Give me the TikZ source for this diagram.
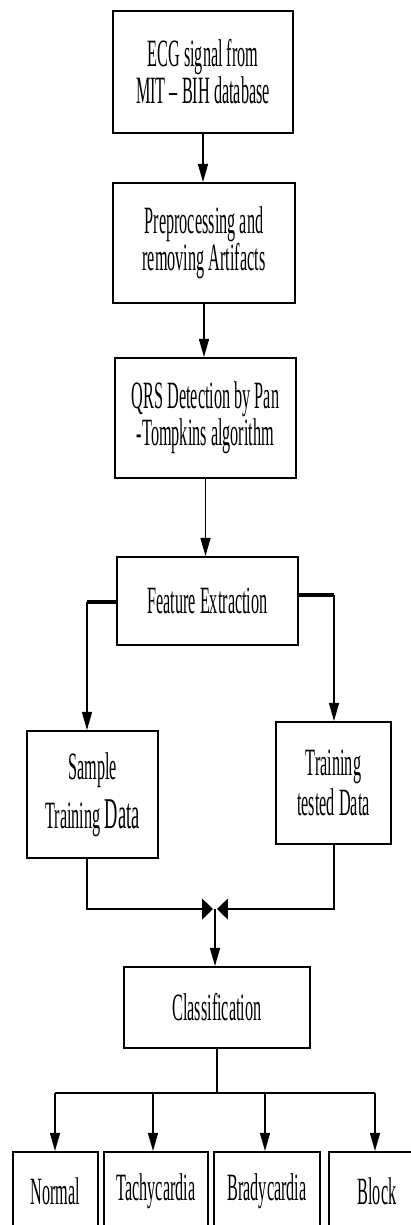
\documentclass[tikz,border=0pt]{standalone}
\usepackage{fontspec}
\setmainfont[FakeStretch=0.42]{Liberation Serif}
\usetikzlibrary{arrows.meta,positioning}
\tikzset{
  stage/.style={
    shape = rectangle,
    draw,
    line width = 1.2pt,
    align = center,
    inner sep = 0pt,
    font = \fontsize{22}{21}\selectfont
  },
  arr/.style={
    line width = 0.8pt,
    -{Triangle[length=0.36cm,width=0.2cm]}
  },
  mergearr/.style={
    line width = 0.8pt,
    -{Triangle[length=0.22cm,width=0.42cm]}
  },
  wire/.style={
    line width = 0.8pt
  },
  bar/.style={
    line width = 2.3pt
  }
}

\begin{document}
\begin{tikzpicture}[x=0.02cm, y=-0.02cm]
    \useasboundingbox (0,0) rectangle (411,1225);
    \clip (0,0) rectangle (411,1225);
    % main column
    \node[stage, minimum width=3.6cm, minimum height=2.44cm] (ecg) at (203,72) {ECG signal from\\MIT -- BIH database};
    \node[stage, minimum width=3.64cm, minimum height=2.4cm] (pre) at (204,243) {Preprocessing and\\removing Artifacts};
    \node[stage, minimum width=3.62cm, minimum height=2.4cm] (qrs) at (205.5,418) {QRS Detection by Pan\\-Tompkins algorithm};
    \node[stage, minimum width=3.62cm, minimum height=1.76cm] (feat) at (207.5,601) {Feature Extraction};
    \draw[arr] (ecg.south) -- (ecg.south |- pre.north);
    \draw[arr] (pre.south) -- (pre.south |- qrs.north);
    \draw[arr] (qrs.south) -- (qrs.south |- feat.north);
    % two branches
    \node[stage, minimum width=2.62cm, minimum height=2.54cm] (sample) at (92.5,794.5) {Sample\\[6pt]Training {\fontsize{25}{24}\selectfont Data}};
    \node[stage, minimum width=2.3cm, minimum height=2.44cm] (tested) at (333.5,783) {Training\\[2pt]tested Data};
    \coordinate (fl) at (87,602);
    \coordinate (fr) at (334,595);
    \draw[bar] (feat.west |- fl) -- (fl);
    \draw[bar] (feat.east |- fr) -- (fr);
    \draw[arr] (fl) -- (fl |- sample.north);
    \draw[arr] (fr) -- (fr |- tested.north);
    % merge
    \coordinate (merge) at (215,909);
    \coordinate (mergeL) at (213,909);
    \coordinate (mergeR) at (217,909);
    \draw[mergearr] (fl |- sample.south) -- (fl |- merge) -- (mergeL);
    \draw[mergearr] (fr |- tested.south) -- (fr |- merge) -- (mergeR);
    \node[stage, minimum width=3.72cm, minimum height=1.62cm] (class) at (217,1007.5) {Classification};
    \draw[arr] (merge) -- (merge |- class.north);
    % classes
    \node[stage, minimum width=1.7cm, minimum height=1.56cm] (normal) at (55.5,1191) {Normal};
    \node[stage, minimum width=2.08cm, minimum height=1.56cm] (tachy) at (156,1191) {Tachycardia};
    \node[stage, minimum width=2.12cm, minimum height=1.56cm] (brady) at (267,1191) {Bradycardia};
    \node[stage, minimum width=1.92cm, minimum height=1.56cm] (block) at (377,1191) {Block};
    \coordinate (b1) at (55,1093);
    \coordinate (b2) at (153,1093);
    \coordinate (b3) at (265,1093);
    \coordinate (b4) at (375,1093);
    \draw[wire] (class.south) -- (class.south |- b1);
    \draw[wire] (b1) -- (b4);
    \foreach \b/\n in {b1/normal, b2/tachy, b3/brady, b4/block}
        \draw[arr] (\b) -- (\b |- \n.north);
\end{tikzpicture}
\end{document}
